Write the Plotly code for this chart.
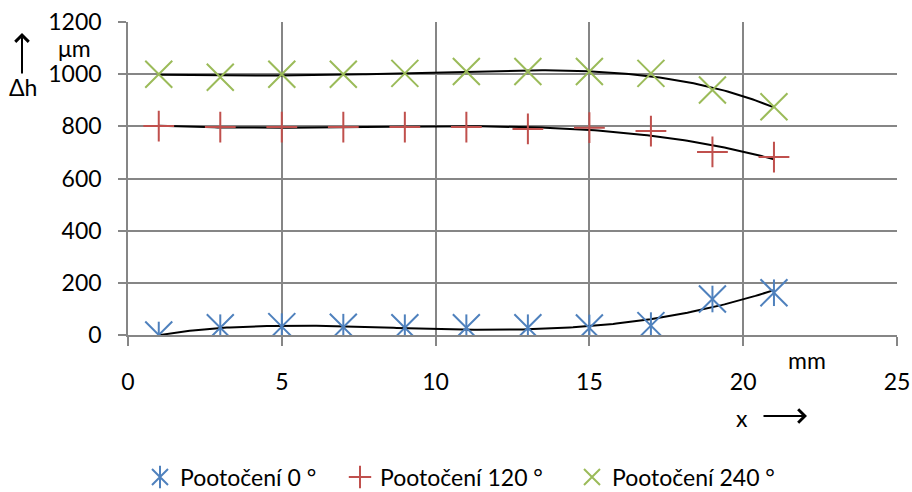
import numpy as np
import plotly.graph_objects as go

x_mm = [1, 3, 5, 7, 9, 11, 13, 15, 17, 19, 21]
dh_0 = [0, 28, 32, 30, 28, 28, 28, 27, 36, 138, 162]
dh_120 = [801, 797, 797, 797, 797, 797, 790, 795, 782, 702, 682]
dh_240 = [1000, 988, 1000, 1000, 1003, 1010, 1010, 1010, 1003, 939, 875]
series_names = ["Pootočení 0 °", "Pootočení 120 °", "Pootočení 240 °"]
colors = ["#4F81BD", "#C0504D", "#9BBB59"]
trend_degree = 4

FONT = "Lato"
FS = 23
W = 769.0
H = 313.0
fig = go.Figure()

xs = np.linspace(min(x_mm), max(x_mm), 200)
for ys in (dh_0, dh_120, dh_240):
    c = np.polyfit(x_mm, ys, trend_degree)
    fig.add_trace(go.Scatter(x=xs, y=np.polyval(c, xs), mode="lines",
                             line=dict(color="black", width=2), showlegend=False,
                             hoverinfo="skip"))

# series 0 (star: x + vertical line)
fig.add_trace(go.Scatter(x=x_mm, y=dh_0, mode="markers", name=series_names[0], legend="legend",
                         marker=dict(symbol="x-thin-open", size=27, color=colors[0],
                                     line=dict(width=2, color=colors[0]))))
fig.add_trace(go.Scatter(x=x_mm, y=dh_0, mode="markers", name=" ", legend="legend4",
                         marker=dict(symbol="line-ns-open", size=19, color=colors[0],
                                     line=dict(width=2, color=colors[0]))))
fig.add_trace(go.Scatter(x=x_mm, y=dh_120, mode="markers", name=series_names[1], legend="legend2",
                         marker=dict(symbol="cross-thin-open", size=22, color=colors[1],
                                     line=dict(width=2, color=colors[1]))))
fig.add_trace(go.Scatter(x=x_mm, y=dh_240, mode="markers", name=series_names[2], legend="legend3",
                         marker=dict(symbol="x-thin-open", size=27, color=colors[2],
                                     line=dict(width=2, color=colors[2]))))

grid = "#868686"


def leg(left_px):
    return dict(orientation="h", xref="container", yref="container",
                x=left_px / 912.0, xanchor="left", y=1 - 477 / 492.0,
                yanchor="middle", font=dict(size=FS), itemwidth=30,
                bgcolor="rgba(0,0,0,0)")


fig.update_layout(
    width=912, height=492,
    margin=dict(l=128, r=15, t=22, b=157, autoexpand=False),
    paper_bgcolor="white", plot_bgcolor="white",
    font=dict(family=FONT, size=FS, color="black"),
    xaxis=dict(range=[0, 25], dtick=5, showgrid=True, gridcolor=grid, gridwidth=1.5,
               zeroline=False, showline=True, linecolor=grid, linewidth=1.5,
               ticks="outside", tickcolor=grid, ticklen=9, tickwidth=1.5,
               ticklabelstandoff=17, automargin=False,
               tickfont=dict(size=FS), fixedrange=True),
    yaxis=dict(range=[0, 1200], dtick=200, showgrid=True, gridcolor=grid, gridwidth=1.5,
               zeroline=False, showline=True, linecolor=grid, linewidth=1.5,
               ticks="outside", tickcolor=grid, ticklen=8, tickwidth=1.5,
               ticklabelstandoff=12, automargin=False,
               tickfont=dict(size=FS), fixedrange=True),
    legend=leg(140),
    legend4=leg(140),
    legend2=leg(340),
    legend3=leg(572),
    annotations=[
        dict(text="μm", xref="paper", yref="paper", x=(74 - 128) / W, y=(335 - 48) / H,
             xanchor="center", yanchor="middle", showarrow=False, font=dict(size=FS)),
        dict(text="", xref="paper", yref="paper", x=(22 - 128) / W, y=(335 - 33) / H,
             ax=0, ay=42, showarrow=True, arrowhead=4, arrowsize=1.3, arrowwidth=2,
             arrowcolor="black", standoff=0, startstandoff=0),
        dict(text="Δh", xref="paper", yref="paper", x=(23 - 128) / W, y=(335 - 87) / H,
             xanchor="center", yanchor="middle", showarrow=False, font=dict(size=FS)),
        dict(text="mm", xref="paper", yref="paper", x=(807 - 128) / W, y=(335 - 360) / H,
             xanchor="center", yanchor="middle", showarrow=False, font=dict(size=FS)),
        dict(text="x", xref="paper", yref="paper", x=(742 - 128) / W, y=(335 - 418) / H,
             xanchor="center", yanchor="middle", showarrow=False, font=dict(size=FS)),
        dict(text="", xref="paper", yref="paper", x=(807 - 128) / W, y=(335 - 416) / H,
             ax=-45, ay=0, showarrow=True, arrowhead=4, arrowsize=1.3, arrowwidth=2,
             arrowcolor="black", standoff=0, startstandoff=0),
    ],
)
fig.write_html("out.html")
